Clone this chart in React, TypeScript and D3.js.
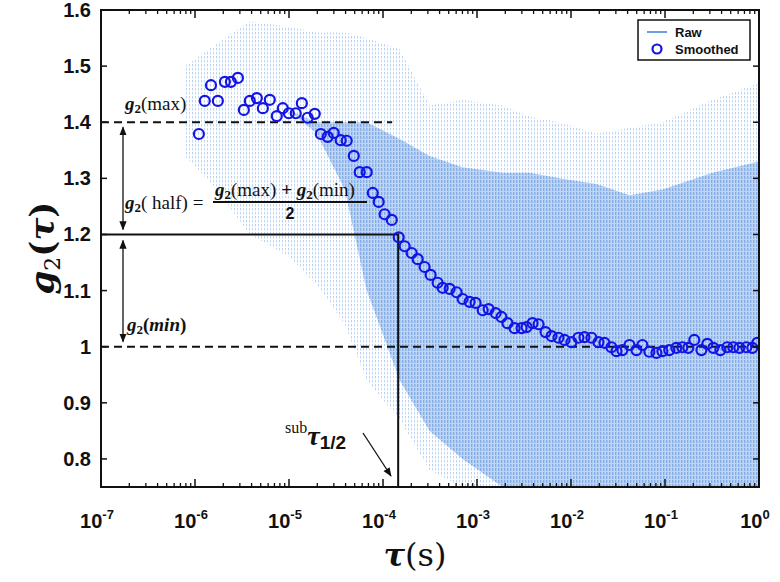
import React from "react";
import * as d3 from "d3";

// ---- Data ----
// Smoothed g2(τ) points
const smoothTau = [
  1.10e-6, 1.27e-6, 1.48e-6, 1.75e-6, 2.08e-6, 2.41e-6, 2.86e-6, 3.31e-6, 3.83e-6, 4.55e-6,
  5.27e-6, 6.25e-6, 7.41e-6, 8.59e-6, 9.96e-6, 1.18e-5, 1.37e-5, 1.58e-5, 1.88e-5, 2.18e-5,
  2.58e-5, 2.99e-5, 3.55e-5, 4.11e-5, 4.89e-5, 5.65e-5, 6.71e-5, 7.78e-5, 9.00e-5, 1.04e-4,
  1.24e-4, 1.47e-4, 1.70e-4, 2.02e-4, 2.34e-4, 2.77e-4, 3.21e-4, 3.81e-4, 4.31e-4, 5.12e-4,
  6.07e-4, 7.03e-4, 8.34e-4, 9.66e-4, 1.15e-3, 1.33e-3, 1.58e-3, 1.82e-3, 2.11e-3, 2.51e-3,
  2.98e-3, 3.37e-3, 3.90e-3, 4.52e-3, 5.36e-3, 6.21e-3, 7.36e-3, 8.53e-3, 1.01e-2, 1.20e-2,
  1.39e-2, 1.65e-2, 1.96e-2, 2.27e-2, 2.69e-2, 3.05e-2, 3.52e-2, 4.19e-2, 4.97e-2, 5.75e-2,
  6.82e-2, 8.11e-2, 9.38e-2, 1.11e-1, 1.32e-1, 1.53e-1, 1.77e-1, 2.05e-1, 2.44e-1, 2.82e-1,
  3.27e-1, 3.88e-1, 4.60e-1, 5.33e-1, 6.18e-1, 7.33e-1, 8.49e-1, 9.59e-1,
];
const smoothG2 = [
  1.379, 1.438, 1.466, 1.438, 1.472, 1.472, 1.479, 1.422, 1.438, 1.443,
  1.425, 1.440, 1.411, 1.425, 1.416, 1.416, 1.434, 1.408, 1.415, 1.379,
  1.374, 1.381, 1.368, 1.367, 1.340, 1.311, 1.311, 1.274, 1.258, 1.236,
  1.226, 1.195, 1.179, 1.167, 1.156, 1.142, 1.128, 1.114, 1.105, 1.103,
  1.097, 1.085, 1.080, 1.078, 1.065, 1.067, 1.060, 1.053, 1.042, 1.033,
  1.033, 1.035, 1.042, 1.040, 1.026, 1.019, 1.016, 1.012, 1.008, 1.016,
  1.017, 1.016, 1.008, 1.007, 0.999, 0.992, 0.994, 1.003, 0.994, 1.003,
  0.991, 0.989, 0.992, 0.994, 0.998, 0.999, 0.998, 1.012, 0.994, 1.005,
  0.998, 0.994, 0.999, 0.999, 0.998, 0.999, 0.998, 1.007,
];

// Raw data envelope: faint outer spread and dense core
const rawTau = [
  7.82e-7, 1.71e-6, 3.83e-6, 1.02e-5, 1.97e-5, 3.92e-5, 6.71e-5, 1.51e-4, 3.13e-4,
  7.03e-4, 1.87e-3, 3.62e-3, 7.55e-3, 1.87e-2, 4.19e-2, 9.38e-2, 3.19e-1, 1.0,
];
const rawSparseHi = [1.50, 1.54, 1.58, 1.57, 1.56, 1.56, 1.55, 1.53, 1.43, 1.44, 1.43, 1.41, 1.40, 1.38, 1.39, 1.40, 1.44, 1.47];
const rawDenseHi = [1.42, 1.45, 1.45, 1.42, 1.40, 1.40, 1.40, 1.37, 1.34, 1.32, 1.31, 1.31, 1.30, 1.29, 1.27, 1.28, 1.31, 1.33];
const rawDenseLo = [1.42, 1.45, 1.45, 1.42, 1.38, 1.28, 1.10, 0.94, 0.85, 0.80, 0.75, 0.75, 0.75, 0.75, 0.75, 0.75, 0.75, 0.75];
const rawSparseLo = [1.34, 1.28, 1.20, 1.16, 1.11, 1.04, 0.94, 0.87, 0.78, 0.75, 0.75, 0.75, 0.75, 0.75, 0.75, 0.75, 0.75, 0.75];

// Axis ticks
const yTicks = [0.8, 0.9, 1.0, 1.1, 1.2, 1.3, 1.4, 1.5, 1.6];
const yTickLabels = ["0.8", "0.9", "1", "1.1", "1.2", "1.3", "1.4", "1.5", "1.6"];
const xDecades = [-7, -6, -5, -4, -3, -2, -1, 0];

// Reference levels
const g2Max = 1.4;
const g2Min = 1.0;
const g2Half = 1.2;
const tauHalf = 1.45e-4;

const W = 780;
const H = 582;
const L = 101, R = 759, T = 10, B = 487;

export default function App() {
  const x = d3.scaleLog().domain([1e-7, 1]).range([L, R]);
  const y = d3.scaleLinear().domain([0.75, 1.6]).range([B, T]);

  const sparseArea = d3
    .area<number>()
    .x((i) => x(rawTau[i]))
    .y0((i) => y(rawSparseLo[i]))
    .y1((i) => y(rawSparseHi[i]));
  const denseArea = d3
    .area<number>()
    .x((i) => x(rawTau[i]))
    .y0((i) => y(rawDenseLo[i]))
    .y1((i) => y(rawDenseHi[i]));
  const idx = rawTau.map((_, i) => i);

  const minorTicks: number[] = [];
  xDecades.slice(0, -1).forEach((d) => {
    for (let k = 2; k <= 9; k++) minorTicks.push(k * Math.pow(10, d));
  });

  const serif = "'Liberation Serif', 'Times New Roman', serif";
  const sans = "'Liberation Sans', Arial, Helvetica, sans-serif";
  const mathSerif = "'DejaVu Serif', serif";

  const arrowX = 123;

  return (
    <svg
      width={W}
      height={H}
      style={{ position: "absolute", left: 0, top: 0, background: "#fff" }}
    >
      <defs>
        <clipPath id="plotClip">
          <rect x={L} y={T} width={R - L} height={B - T} />
        </clipPath>
        <pattern id="densePat" width="3" height="4" patternUnits="userSpaceOnUse">
          <rect width="3" height="4" fill="#bed5f4" />
          <rect x="0" y="0" width="1.4" height="3" fill="#84ade7" />
        </pattern>
        <pattern id="sparsePat" width="3" height="4" patternUnits="userSpaceOnUse">
          <rect x="0" y="0" width="1" height="2.5" fill="#9dbdec" opacity="0.65" />
        </pattern>
        <marker id="ah" viewBox="0 0 10 10" refX="9" refY="5" markerWidth="7" markerHeight="7" orient="auto-start-reverse">
          <path d="M0,1 L10,5 L0,9 z" fill="#111" />
        </marker>
      </defs>

      {/* Raw band */}
      <g clipPath="url(#plotClip)">
        <path d={sparseArea(idx) || ""} fill="url(#sparsePat)" />
        <path d={denseArea(idx) || ""} fill="url(#densePat)" />
      </g>

      {/* Reference lines */}
      <line x1={L} x2={x(tauHalf) - 6} y1={y(g2Max)} y2={y(g2Max)} stroke="#111" strokeWidth={2} strokeDasharray="8,5" />
      <line x1={L} x2={R} y1={y(g2Min)} y2={y(g2Min)} stroke="#111" strokeWidth={2} strokeDasharray="8,5" />
      <polyline
        points={`${L},${y(g2Half)} ${x(tauHalf)},${y(g2Half)} ${x(tauHalf)},${B}`}
        fill="none"
        stroke="#111"
        strokeWidth={2}
      />

      {/* Double arrows */}
      <line x1={arrowX} x2={arrowX} y1={y(g2Max) + 5} y2={y(g2Half) - 5} stroke="#111" strokeWidth={1.3} markerStart="url(#ah)" markerEnd="url(#ah)" />
      <line x1={arrowX} x2={arrowX} y1={y(g2Half) + 6} y2={y(g2Min) - 5} stroke="#111" strokeWidth={1.3} markerStart="url(#ah)" markerEnd="url(#ah)" />

      {/* Smoothed points */}
      <g clipPath="url(#plotClip)">
        {smoothTau.map((t, i) => (
          <circle key={i} cx={x(t)} cy={y(smoothG2[i])} r={5} fill="none" stroke="#1414e6" strokeWidth={2.2} />
        ))}
      </g>

      {/* Annotations */}
      <text x={125} y={110} fontFamily={serif} fontSize={19} fill="#111">
        <tspan fontWeight="bold" fontStyle="italic">g</tspan>
        <tspan fontWeight="bold" fontSize={13} dy={3}>2</tspan>
        <tspan dy={-3}>(max)</tspan>
      </text>
      <text x={125} y={209} fontFamily={serif} fontSize={19} fill="#111">
        <tspan fontWeight="bold" fontStyle="italic">g</tspan>
        <tspan fontWeight="bold" fontSize={13} dy={3}>2</tspan>
        <tspan dy={-3}>( half) =</tspan>
      </text>
      <text x={215} y={196} fontFamily={serif} fontSize={19} fill="#111">
        <tspan fontWeight="bold" fontStyle="italic">g</tspan>
        <tspan fontWeight="bold" fontSize={13} dy={3}>2</tspan>
        <tspan dy={-3}>(max) </tspan>
        <tspan fontWeight="bold">+ </tspan>
        <tspan fontWeight="bold" fontStyle="italic">g</tspan>
        <tspan fontWeight="bold" fontSize={13} dy={3}>2</tspan>
        <tspan dy={-3}>(min)</tspan>
      </text>
      <line x1={213} x2={367} y1={202} y2={202} stroke="#111" strokeWidth={1.8} />
      <text x={290} y={219} textAnchor="middle" fontFamily={sans} fontWeight="bold" fontSize={16} fill="#111">2</text>
      <text x={127} y={331} fontFamily={serif} fontSize={19} fill="#111" fontWeight="bold">
        <tspan fontStyle="italic">g</tspan>
        <tspan fontSize={13} dy={3}>2</tspan>
        <tspan dy={-3}>(</tspan>
        <tspan fontStyle="italic">min</tspan>
        <tspan>)</tspan>
      </text>

      <text x={285} y={445} fontFamily={serif} fill="#111">
        <tspan fontSize={16} dy={-12}>sub</tspan>
        <tspan fontSize={28} fontWeight="bold" fontStyle="italic" dy={12}>τ</tspan>
        <tspan fontSize={19} fontWeight="bold" fontFamily={sans} dy={4}>1/2</tspan>
      </text>
      <line x1={363} y1={433} x2={391} y2={476} stroke="#111" strokeWidth={1.3} markerEnd="url(#ah)" />

      {/* Frame */}
      <rect x={L} y={T} width={R - L} height={B - T} fill="none" stroke="#111" strokeWidth={2} />

      {/* Y ticks */}
      {yTicks.map((v, i) => (
        <g key={v}>
          <line x1={L} x2={L + 6} y1={y(v)} y2={y(v)} stroke="#111" strokeWidth={1.5} />
          <line x1={R} x2={R - 6} y1={y(v)} y2={y(v)} stroke="#111" strokeWidth={1.5} />
          <text x={91} y={y(v) + 7} textAnchor="end" fontFamily={sans} fontWeight="bold" fontSize={20} fill="#111">
            {yTickLabels[i]}
          </text>
        </g>
      ))}

      {/* X ticks */}
      {xDecades.map((d) => {
        const px = x(Math.pow(10, d));
        return (
          <g key={d}>
            <line x1={px} x2={px} y1={B} y2={B - 8} stroke="#111" strokeWidth={1.5} />
            <line x1={px} x2={px} y1={T} y2={T + 8} stroke="#111" strokeWidth={1.5} />
            <text x={px - 4} y={528} textAnchor="middle" fontFamily={sans} fontWeight="bold" fontSize={20} fill="#111">
              10
              <tspan fontSize={13} dy={-9}>{String(d)}</tspan>
            </text>
          </g>
        );
      })}
      {minorTicks.map((t, i) => (
        <g key={"m" + i}>
          <line x1={x(t)} x2={x(t)} y1={B} y2={B - 4} stroke="#111" strokeWidth={1.3} />
          <line x1={x(t)} x2={x(t)} y1={T} y2={T + 4} stroke="#111" strokeWidth={1.3} />
        </g>
      ))}

      {/* Axis titles */}
      <text x={415} y={566} textAnchor="middle" fontFamily={mathSerif} fontSize={32} fill="#111">
        <tspan fontWeight="bold" fontStyle="italic">τ</tspan>
        <tspan>(s)</tspan>
      </text>
      <text
        transform={`translate(54,${248}) rotate(-90)`}
        textAnchor="middle"
        fontFamily={mathSerif}
        fontSize={34}
        fill="#111"
        fontWeight="bold"
      >
        <tspan fontStyle="italic">g</tspan>
        <tspan fontSize={22} fontWeight="normal" dy={6}>2</tspan>
        <tspan dy={-6}>(</tspan>
        <tspan fontStyle="italic">τ</tspan>
        <tspan>)</tspan>
      </text>

      {/* Legend */}
      <rect x={638} y={20} width={112} height={40} fill="#fff" stroke="#111" strokeWidth={1.5} />
      <line x1={647} x2={667} y1={32} y2={32} stroke="#6a9fe0" strokeWidth={2} />
      <text x={675} y={37} fontFamily={sans} fontWeight="bold" fontSize={13} fill="#111">Raw</text>
      <circle cx={657} cy={49} r={4.5} fill="none" stroke="#1414e6" strokeWidth={2.2} />
      <text x={675} y={54} fontFamily={sans} fontWeight="bold" fontSize={13} fill="#111">Smoothed</text>
    </svg>
  );
}
